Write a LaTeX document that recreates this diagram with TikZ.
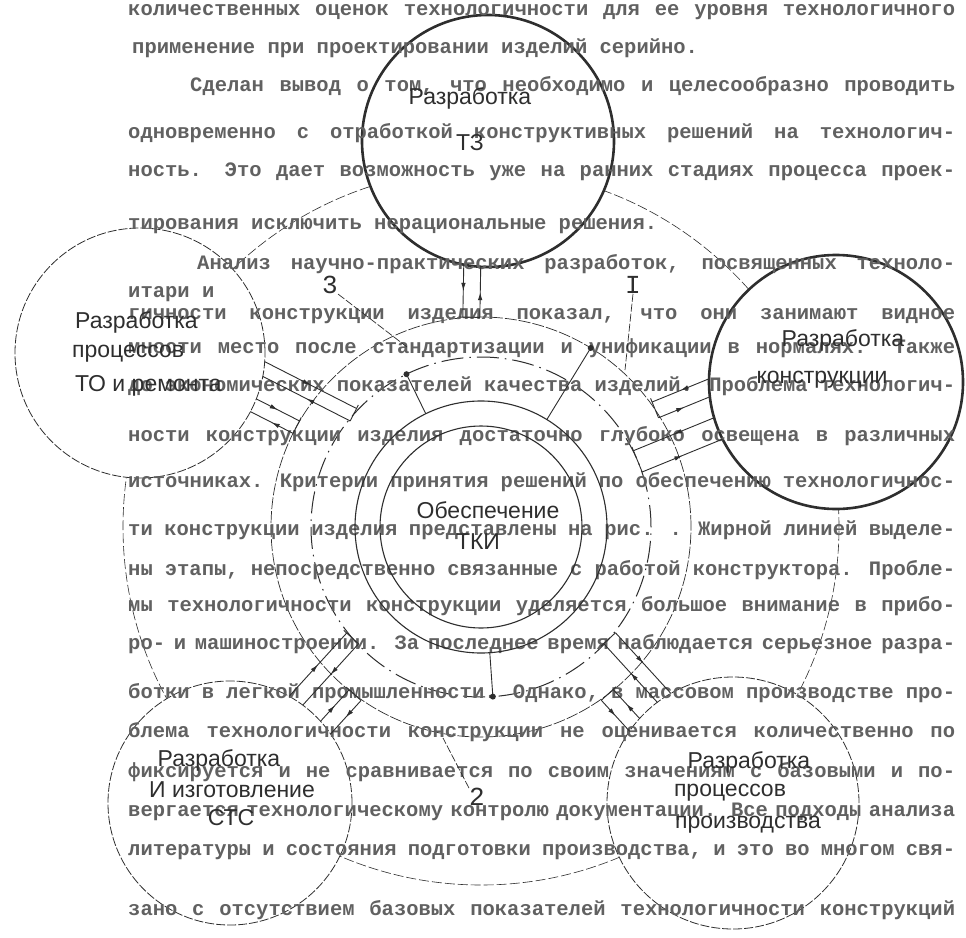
\documentclass[tikz,border=0pt]{standalone}
\usepackage{fontspec}
\setmainfont{Liberation Sans}
\newfontfamily\typew{Liberation Mono}
\newfontfamily\labf{Liberation Sans}
\usetikzlibrary{arrows.meta,decorations.markings,calc}
\definecolor{ink}{gray}{0.18}
\definecolor{txt}{gray}{0.38}
\tikzset{
  bgtxt/.style={anchor=west, inner sep=0pt, text=txt, font=\typew\bfseries\fontsize{20.5pt}{20.5pt}\selectfont},
  lab/.style={inner sep=0pt, text=ink, font=\labf\fontsize{23pt}{23pt}\selectfont},
  numlab/.style={inner sep=0pt, text=ink, font=\typew\fontsize{26pt}{26pt}\selectfont},
  boldc/.style={circle, draw=ink, line width=2.6pt, fill=white, minimum size=#1, inner sep=0pt},
  thinc/.style={circle, draw=ink, line width=0.8pt, dash pattern=on 9pt off 2pt, fill=white, minimum size=#1, inner sep=0pt},
  ringsolid/.style={draw=ink, line width=1.1pt},
  dashdot/.style={draw=ink, line width=1pt, dash pattern=on 22pt off 6pt on 1.6pt off 6pt},
  thinring/.style={draw=ink, line width=0.7pt, dash pattern=on 12pt off 2pt},
  bigring/.style={draw=ink, line width=0.6pt, dash pattern=on 10pt off 3pt},
  chl/.style={draw=ink, line width=0.9pt},
  leader/.style={draw=ink, line width=0.7pt, dash pattern=on 8pt off 2pt},
  midarrow/.style={postaction={decorate}, decoration={markings, mark=at position 0.5 with {\arrow{Latex[length=8pt,width=4.5pt]}}}}
}
% channel: #1 angle, #2 distance of circle centre, #3 circle radius, #4 s1, #5 s2, #6 ring radius
\newcommand\chan[6]{%
  \begin{scope}[shift={(O)},rotate=#1]
    \pgfmathsetmacro\chE{(#6)*sqrt(1-(((#4)+(#5))/2/(#6))^2)}
    \pgfmathsetmacro\chA{(#2)-(#3)*sqrt(1-((#4)/(#3))^2)}
    \pgfmathsetmacro\chB{(#2)-(#3)*sqrt(1-((#5)/(#3))^2)}
    \pgfmathsetmacro\chC{(#4)+4*sign((#4)-(#5))}
    \draw[chl,midarrow] (\chA,#4) -- (\chE,#4);
    \draw[chl,midarrow] (\chE,#5) -- (\chB,#5);
    \draw[chl] (\chE,\chC) -- (\chE,#5);
  \end{scope}}
\newcommand\jl[2]{\hbox to #1pt{\spaceskip=.6em plus 4em minus .3em\relax #2}}
\begin{document}
\begin{tikzpicture}[x=1pt,y=-1pt]
\useasboundingbox[fill=white] (0,0) rectangle (966,937);
\coordinate (O) at (481,527);

% rings around the centre
\draw[bigring] (O) circle[radius=358pt];
\draw[thinring] (O) circle[radius=210pt];
\draw[dashdot] (O) circle[radius=170pt];

% outer circles
\node[boldc=252pt] (tz) at (488,141) {};
\node[boldc=254pt] (kon) at (836,382) {};
\node[thinc=250pt] (tor) at (140,353) {};
\node[thinc=244pt] (sts) at (230,803) {};
\node[thinc=252pt] (pro) at (733,803) {};

% page text
\node[bgtxt] (t1) at (128,12) {\jl{827}{количественных оценок технологичности для ее уровня технологичного}};
\node[bgtxt] (t2) at (132,48) {применение при проектировании изделий серийно.};
\node[bgtxt] (t3) at (190,86) {\jl{765}{Сделан вывод о том, что необходимо и целесообразно проводить}};
\node[bgtxt] (t4) at (128,133) {\jl{827}{одновременно с отработкой конструктивных решений на технологич-}};
\node[bgtxt] (t5) at (128,172) {\jl{827}{ность. Это дает возможность уже на ранних стадиях процесса проек-}};
\node[bgtxt] (t6) at (128,226) {тирования исключить нерациональные решения.};
\node[bgtxt] (t7) at (197,264) {\jl{758}{Анализ научно-практических разработок, посвященных техноло-}};
\node[bgtxt] (t8) at (128,294) {итари  и};
\node[bgtxt] (t9) at (128,316) {\jl{827}{гичности конструкции изделия показал, что они занимают видное}};
\node[bgtxt] (t10) at (128,348) {\jl{827}{мности место после стандартизации и унификации в нормалях. Также}};
\node[bgtxt] (t11) at (128,386) {\jl{827}{до экономических показателей качества изделий. Проблема технологич-}};
\node[bgtxt] (t12) at (128,436) {\jl{827}{ности конструкции изделия достаточно глубоко освещена в различных}};
\node[bgtxt] (t13) at (128,482) {\jl{827}{источниках. Критерии принятия решений по обеспечению технологичнос-}};
\node[bgtxt] (t14) at (128,530) {\jl{827}{ти конструкции изделия представлены на рис. . Жирной линией выделе-}};
\node[bgtxt] (t15) at (128,570) {\jl{827}{ны этапы, непосредственно связанные с работой конструктора. Пробле-}};
\node[bgtxt] (t16) at (128,606) {\jl{827}{мы технологичности конструкции уделяется большое внимание в прибо-}};
\node[bgtxt] (t17) at (128,644) {\jl{827}{ро- и машиностроении. За последнее время наблюдается серьезное разра-}};
\node[bgtxt] (t18) at (128,693) {\jl{827}{ботки в легкой промышленности. Однако, в массовом производстве про-}};
\node[bgtxt] (t19) at (128,732) {\jl{827}{блема технологичности конструкции не оценивается количественно по}};
\node[bgtxt] (t20) at (128,772) {\jl{827}{фиксируется и не сравнивается по своим значениям с базовыми и по-}};
\node[bgtxt] (t21) at (128,812) {\jl{827}{вергается технологическому контролю документации. Все подходы анализа}};
\node[bgtxt] (t22) at (128,852) {\jl{827}{литературы и состояния подготовки производства, и это во многом свя-}};
\node[bgtxt] (t23) at (128,910) {\jl{827}{зано с отсутствием базовых показателей технологичности конструкций}};

% central circles
\draw[ringsolid] (O) circle[radius=126pt];
\draw[ringsolid] (O) circle[radius=101pt];

% channels between the outer circles and the rings
\chan{88.96}{386}{126}{-22}{-5}{210}
\chan{22.22}{383.5}{127}{-51}{-34}{210}
\chan{22.22}{383.5}{127}{-13}{10}{170}
\chan{152.97}{383}{125}{49}{35}{170}
\chan{152.97}{383}{125}{12}{-2}{210}
\chan{-132.29}{373}{122}{28}{12}{170}
\chan{-132.29}{373}{122}{-12}{-28}{210}
\chan{-47.6}{374}{126}{-12}{-28}{170}
\chan{-47.6}{374}{126}{12}{28}{210}

% radial lines with dots
\coordinate (r1a) at ($(O)+(-116:126)$);
\coordinate (r1b) at ($(O)+(-116:170)$);
\coordinate (r2a) at ($(O)+(-58.5:126)$);
\coordinate (r2b) at ($(O)+(-58.5:210)$);
\coordinate (r3a) at ($(O)+(86:126)$);
\coordinate (r3b) at ($(O)+(86:170)$);
\draw[chl] (r1a) -- (r1b);
\draw[chl] (r2a) -- (r2b);
\draw[chl] (r3a) -- (r3b);
\fill[ink] (r1b) circle[radius=3pt];
\fill[ink] (r2b) circle[radius=3pt];
\fill[ink] (r3b) circle[radius=3pt];

% labels
\node[lab] (tzl1) at (470,98) {Разработка};
\node[lab] (tzl2) at (470,143) {ТЗ};
\node[lab] (konl1) at (843,340) {Разработка};
\node[lab] (konl2) at (822,380) {конструкции};
\node[lab,anchor=west] (torl1) at (75,322) {Разработка};
\node[lab,anchor=west] (torl2) at (72,354) {процессов};
\node[lab,anchor=west] (torl3) at (75,386) {ТО и ремонта};
\node[lab] (stsl1) at (219,760) {Разработка};
\node[lab] (stsl2) at (232,790) {И изготовление};
\node[lab] (stsl3) at (231,818) {СТС};
\node[lab] (prol1) at (749,762) {Разработка};
\node[lab] (prol2) at (730,793) {процессов};
\node[lab] (prol3) at (748,825) {производства};
\node[lab] (obl1) at (488,510) {Обеспечение};
\node[lab] (obl2) at (478,542) {ТКИ};

% numbered leaders
\node[numlab] (n3) at (330,285) {3};
\node[numlab] (n1) at (633,285) {I};
\node[numlab] (n2) at (477,797) {2};
\coordinate (e3) at (407,347);
\coordinate (e1) at (625,370);
\coordinate (e2) at (443,738);
\draw[leader] (n3.south east) -- (e3);
\draw[leader] (n1.south) -- (e1);
\draw[leader] (n2.north west) -- (e2);
\end{tikzpicture}
\end{document}
